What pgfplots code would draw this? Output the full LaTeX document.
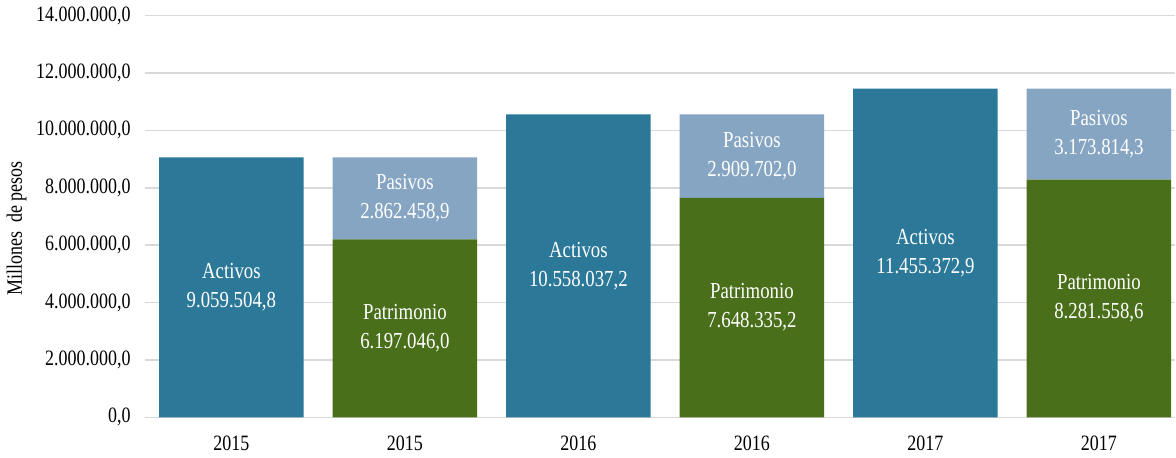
\documentclass[border=0pt]{standalone}
\usepackage{fontspec}
\setmainfont[FakeStretch=0.82]{Liberation Serif}
\usepackage{pgfplots}
\pgfplotsset{compat=1.18}
\usepackage{pgfplotstable}
\definecolor{cact}{RGB}{43,120,152}
\definecolor{cpat}{RGB}{74,111,27}
\definecolor{cpas}{RGB}{134,165,194}
\definecolor{cgrid}{RGB}{217,217,217}
\def\nolab{none}

\pgfplotstableread{
x y lab
0 9059504.8 9.059.504,8
1 0 none
2 10558037.2 10.558.037,2
3 0 none
4 11455372.9 11.455.372,9
5 0 none
}\tactivos
\pgfplotstableread{
x y lab
0 0 none
1 6197046.0 6.197.046,0
2 0 none
3 7648335.2 7.648.335,2
4 0 none
5 8281558.6 8.281.558,6
}\tpatrimonio
\pgfplotstableread{
x y lab
0 0 none
1 2862458.9 2.862.458,9
2 0 none
3 2909702.0 2.909.702,0
4 0 none
5 3173814.3 3.173.814,3
}\tpasivos

\begin{document}
\begin{tikzpicture}[font=\fontsize{11}{13}\selectfont]
\begin{axis}[
  scale only axis,
  width=517pt, height=201.5pt,
  ybar stacked,
  bar width=0.832,
  xmin=-0.5, xmax=5.44,
  ymin=0, ymax=14000000,
  scaled y ticks=false,
  xtick={0,1,2,3,4,5},
  xticklabels={2015,2015,2016,2016,2017,2017},
  ytick={0,2000000,4000000,6000000,8000000,10000000,12000000,14000000},
  yticklabels={{0,0},{2.000.000,0},{4.000.000,0},{6.000.000,0},{8.000.000,0},{10.000.000,0},{12.000.000,0},{14.000.000,0}},
  axis line style={draw=none},
  tick style={draw=none},
  ymajorgrids,
  grid style={cgrid, line width=0.75pt},
  yticklabel style={xshift=-3.5pt},
  xticklabel style={yshift=-6pt},
  ylabel={Millones\ \ de pesos},
  ylabel style={at={(ticklabel cs:0.47)}, yshift=-2pt},
  point meta=explicit symbolic,
  every node near coord/.append style={anchor=center, align=center, text=white,
     font=\fontsize{11.5}{14.5}\selectfont},
]
\addplot[fill=cact, draw=none,
  nodes near coords={\edef\tmpb{\pgfplotspointmeta}\ifx\tmpb\nolab\else Activos\\\pgfplotspointmeta\fi}]
  table[x=x, y=y, meta=lab] {\tactivos};
\addplot[fill=cpat, draw=none,
  nodes near coords={\edef\tmpb{\pgfplotspointmeta}\ifx\tmpb\nolab\else Patrimonio\\\pgfplotspointmeta\fi}]
  table[x=x, y=y, meta=lab] {\tpatrimonio};
\addplot[fill=cpas, draw=none,
  nodes near coords={\edef\tmpb{\pgfplotspointmeta}\ifx\tmpb\nolab\else Pasivos\\\pgfplotspointmeta\fi}]
  table[x=x, y=y, meta=lab] {\tpasivos};
\end{axis}
\end{tikzpicture}
\end{document}
